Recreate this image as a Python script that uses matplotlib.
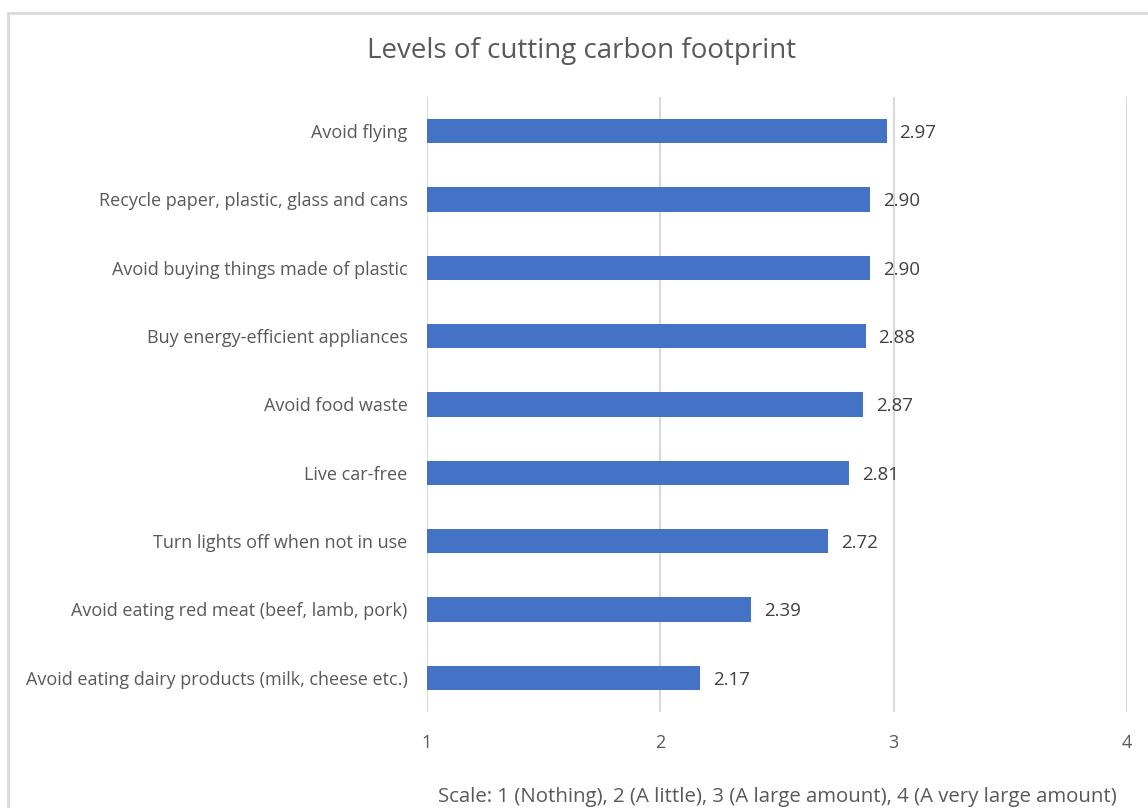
import matplotlib.pyplot as plt
from matplotlib.patches import Rectangle

categories = [
    "Avoid flying",
    "Recycle paper, plastic, glass and cans",
    "Avoid buying things made of plastic",
    "Buy energy-efficient appliances",
    "Avoid food waste",
    "Live car-free",
    "Turn lights off when not in use",
    "Avoid eating red meat (beef, lamb, pork)",
    "Avoid eating dairy products (milk, cheese etc.)",
]
scores = [2.97, 2.90, 2.90, 2.88, 2.87, 2.81, 2.72, 2.39, 2.17]
x_ticks = [1, 2, 3, 4]

bar_color = "#4472C4"
text_color = "#595959"
grid_color = "#D9D9D9"

plt.rcParams["font.family"] = ["Open Sans", "DejaVu Sans"]

fig = plt.figure(figsize=(11.48, 8.08), dpi=100)
ax = fig.add_axes([427 / 1148, 1 - 712 / 808, 700 / 1148, 615 / 808])

# chart border (only top and left edges are inside the canvas)
fig.patches.append(Rectangle((8 / 1148, -0.1), 1.2, 1 - 13 / 808 + 0.1,
                             transform=fig.transFigure, fill=False,
                             edgecolor=grid_color, linewidth=2))

ypos = list(range(len(categories)))
ax.barh(ypos, [s - 1 for s in scores], left=1, height=0.36, color=bar_color, zorder=3)

for y, s in zip(ypos, scores):
    ax.text(s + 0.055, y, f"{s:.2f}", va="center_baseline", ha="left",
            fontsize=13.5, color="#404040", zorder=4)

ax.set_xlim(1, 4)
ax.set_ylim(len(categories) - 0.5, -0.5)
ax.set_xticks(x_ticks)
ax.set_yticks(ypos)
ax.set_yticklabels(categories)
ax.xaxis.grid(True, color=grid_color, linewidth=1.5)
ax.set_axisbelow(True)
for sp in ax.spines.values():
    sp.set_visible(False)
ax.tick_params(axis="both", length=0, colors=text_color, labelsize=13)
ax.tick_params(axis="y", pad=14)
ax.tick_params(axis="x", pad=16)

ax.set_xlabel("Scale: 1 (Nothing), 2 (A little), 3 (A large amount), 4 (A very large amount)",
              fontsize=14.7, color=text_color, labelpad=25)

fig.text(582 / 1148, 1 - 51 / 808, "Levels of cutting carbon footprint",
         ha="center", va="center", fontsize=20, color=text_color)

fig.savefig("out.png", dpi=100)
